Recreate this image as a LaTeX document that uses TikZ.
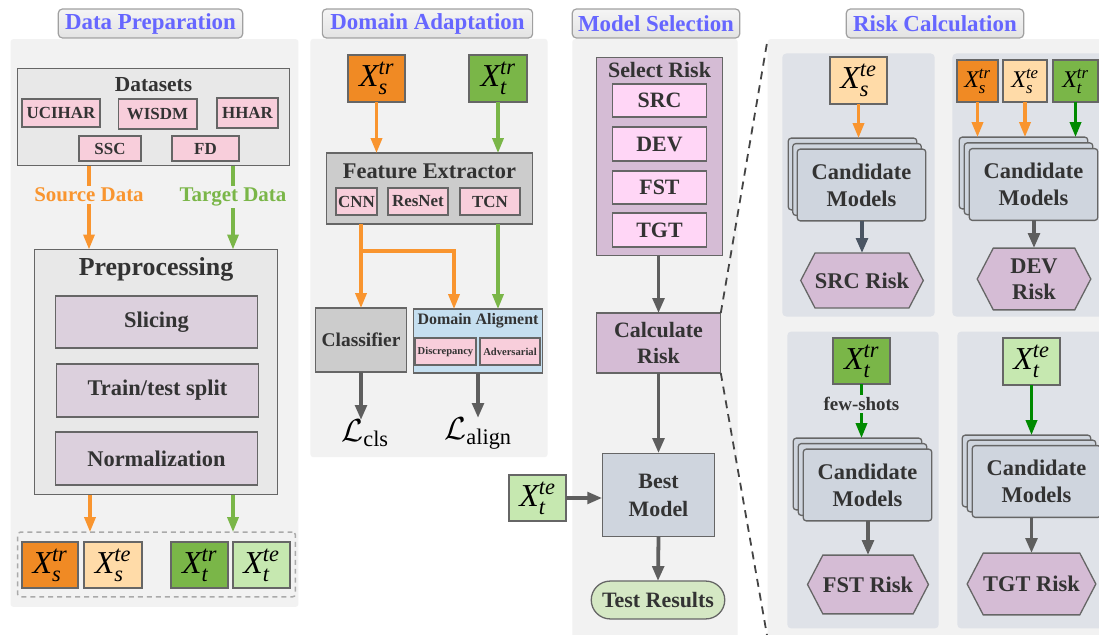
\RequirePackage{fix-cm}
\documentclass[tikz,border=0pt]{standalone}
\usepackage{amsmath}
\usepackage{fontspec}
\setmainfont{Liberation Serif}
\usetikzlibrary{arrows.meta,shapes.symbols,calc}

\definecolor{panelbg}{HTML}{F2F2F2}
\definecolor{subbg}{HTML}{DFE2E8}
\definecolor{titleblue}{HTML}{6666FF}
\definecolor{titleedge}{HTML}{A0A0A0}
\definecolor{txt}{HTML}{333333}
\definecolor{edge}{HTML}{666666}
\definecolor{boxlight}{HTML}{E8E8E8}
\definecolor{pinkbox}{HTML}{F8CEDB}
\definecolor{mauvelt}{HTML}{DCD0DD}
\definecolor{orgfill}{HTML}{F08A24}
\definecolor{orgline}{HTML}{F9952F}
\definecolor{peach}{HTML}{FFDBA8}
\definecolor{grnfill}{HTML}{7AB648}
\definecolor{grnline}{HTML}{7AB648}
\definecolor{grnlight}{HTML}{C6E8B0}
\definecolor{grndark}{HTML}{008A00}
\definecolor{fegray}{HTML}{CCCCCC}
\definecolor{dablue}{HTML}{C5DFF0}
\definecolor{mauve}{HTML}{D5BCD5}
\definecolor{pinkviolet}{HTML}{FFD6F6}
\definecolor{slatebox}{HTML}{CFD5DE}
\definecolor{testgrn}{HTML}{D5E8C4}
\definecolor{arrgray}{HTML}{5E5E5E}
\definecolor{slatedark}{HTML}{4A5563}
\definecolor{dashgray}{HTML}{444444}
\definecolor{boxdash}{HTML}{AAAAAA}

\newcommand\fsz[2]{\fontsize{#1}{#2}\selectfont\bfseries}
\newcommand\xv[2]{$\textit{X}^{\textit{#1}}_{\textit{#2}}$}

\begin{document}
\begin{tikzpicture}[x=1bp,y=-1bp,
  every node/.style={inner sep=0pt,outer sep=0pt},
  panel/.style={fill=panelbg,rounded corners=3},
  subpanel/.style={fill=subbg,rounded corners=4},
  ttl/.style={draw=titleedge,line width=1.2,rounded corners=4,top color=gray!8,bottom color=gray!22,
    text=titleblue,font=\fsz{23}{26},minimum height=29},
  box/.style={draw=edge,line width=1.3,text=txt,align=center},
  lbl/.style={text=txt,align=center},
  xbox/.style={draw=edge,line width=1.3,text=black,font=\fontsize{32}{32}\selectfont},
  xsmall/.style={draw=edge,line width=1.3,text=black,font=\fontsize{24}{24}\selectfont},
  card/.style={box,fill=slatebox,rounded corners=3,minimum width=129,minimum height=72,
    font=\fsz{22.5}{27}},
  hexa/.style={box,fill=mauve,shape=signal,signal to=west and east,signal pointer angle=125,
    font=\fsz{22.5}{26}},
  oarr/.style={draw=orgline,line width=3.3,-{Triangle[width=11,length=15]}},
  garr/.style={draw=grnline,line width=3.3,-{Triangle[width=11,length=15]}},
  dgarr/.style={draw=grndark,line width=3.3,-{Triangle[width=11,length=15]}},
  gyarr/.style={draw=arrgray,line width=3.8,-{Triangle[width=11.5,length=15]}},
  sdarr/.style={draw=slatedark,line width=3.8,-{Triangle[width=11.5,length=15]}},
  dashline/.style={draw=dashgray,line width=1.8,dash pattern=on 8 off 6}
]
\useasboundingbox (0,0) rectangle (1099,635);
\clip (0,0) rectangle (1099,635);
\fill[white] (0,0) rectangle (1099,635);

% ---------------- panels and titles ----------------
\node[panel,minimum width=289,minimum height=570] (dppanel) at (154.5,323) {};
\node[panel,minimum width=238,minimum height=420] (dapanel) at (429,248) {};
\node[panel,minimum width=166,minimum height=602] (mspanel) at (655,339) {};
\node[panel,minimum width=345,minimum height=602] (rcpanel) at (939.5,339) {};

\node[ttl,minimum width=185] (dptitle) at (150.5,23.5) {Data Preparation};
\node[ttl,minimum width=211] (datitle) at (427.5,23.5) {Domain Adaptation};
\node[ttl,minimum width=168] (mstitle) at (656,23.5) {Model Selection};
\node[ttl,minimum width=178] (rctitle) at (935,23.5) {Risk Calculation};

% ---------------- data preparation ----------------
\node[box,fill=boxlight,minimum width=273,minimum height=98] (ds) at (153.5,117) {};
\node[lbl,font=\fsz{21.5}{24}] (dslabel) at (153.5,85) {Datasets};
\node[box,fill=pinkbox,minimum width=78,minimum height=28,font=\fsz{17}{20}] (ucihar) at (61,113) {UCIHAR};
\node[box,fill=pinkbox,minimum width=79,minimum height=30,font=\fsz{17}{20}] (wisdm) at (157.5,114) {WISDM};
\node[box,fill=pinkbox,minimum width=61,minimum height=30,font=\fsz{17}{20}] (hhar) at (247.5,113) {HHAR};
\node[box,fill=pinkbox,minimum width=62,minimum height=25,font=\fsz{17}{20}] (ssc) at (110,148.5) {SSC};
\node[box,fill=pinkbox,minimum width=67,minimum height=25,font=\fsz{17}{20}] (fd) at (205.5,148.5) {FD};

\node[box,fill=boxlight,minimum width=244,minimum height=246] (pre) at (156,372) {};
\node[lbl,font=\fsz{26}{28}] (prelabel) at (156,269) {Preprocessing};
\node[box,fill=mauvelt,minimum width=203,minimum height=52,font=\fsz{22.5}{26}] (slicing) at (156.5,322) {Slicing};
\node[box,fill=mauvelt,minimum width=203,minimum height=53,font=\fsz{22.5}{26}] (split) at (157.5,390.5) {Train/test split};
\node[box,fill=mauvelt,minimum width=203,minimum height=53,font=\fsz{22.5}{26}] (norm) at (156.5,458.5) {Normalization};

\node[draw=boxdash,line width=1.5,dash pattern=on 5 off 4,rounded corners=3,minimum width=279,minimum height=65] (outbox) at (156.5,564.5) {};
\node[xbox,fill=orgfill,minimum width=56,minimum height=46] (dxstr) at (50,565) {\xv{tr}{s}};
\node[xbox,fill=peach,minimum width=58,minimum height=46] (dxste) at (113,565) {\xv{te}{s}};
\node[xbox,fill=grnfill,minimum width=57,minimum height=46] (dxttr) at (199.5,565) {\xv{tr}{t}};
\node[xbox,fill=grnlight,minimum width=57,minimum height=46] (dxtte) at (261.5,565) {\xv{te}{t}};

\coordinate (srcA) at ($(ds.south)+(-64.5,0)$);
\coordinate (tgtA) at ($(ds.south)+(79.5,0)$);
\draw[oarr] (srcA) -- node[pos=0.35,fill=panelbg,inner sep=2pt,text=orgline,font=\fsz{21}{24}] {Source Data} (srcA |- pre.north);
\draw[garr] (tgtA) -- node[pos=0.37,fill=panelbg,inner sep=2pt,text=grnline,font=\fsz{21}{24}] {Target Data} (tgtA |- pre.north);
\coordinate (srcB) at ($(pre.south)+(-66,0)$);
\coordinate (tgtB) at ($(pre.south)+(77,0)$);
\draw[oarr] (srcB) -- (srcB |- outbox.north);
\draw[garr] (tgtB) -- (tgtB |- outbox.north);

% ---------------- domain adaptation ----------------
\node[xbox,fill=orgfill,minimum width=57,minimum height=47] (axs) at (376.5,78.5) {\xv{tr}{s}};
\node[xbox,fill=grnfill,minimum width=58,minimum height=47] (axt) at (498,78.5) {\xv{tr}{t}};
\node[box,fill=fegray,minimum width=207,minimum height=71] (fe) at (429.5,188.5) {};
\node[lbl,font=\fsz{22.5}{26}] (felabel) at (429.5,171) {Feature Extractor};
\node[box,fill=pinkbox,minimum width=41,minimum height=27,font=\fsz{17}{20}] (cnn) at (356.5,201.5) {CNN};
\node[box,fill=pinkbox,minimum width=60,minimum height=27,font=\fsz{17}{20}] (resnet) at (418,201.5) {ResNet};
\node[box,fill=pinkbox,minimum width=60,minimum height=27,font=\fsz{17}{20}] (tcn) at (490,201.5) {TCN};

\node[box,fill=fegray,minimum width=92,minimum height=64,font=\fsz{19.5}{22}] (cls) at (361,340) {Classifier};
\node[box,fill=dablue,minimum width=130,minimum height=64] (da) at (478,341) {};
\node[lbl,font=\fsz{16}{19}] (dalabel) at (478,321) {Domain Aligment};
\node[box,fill=pinkbox,minimum width=61,minimum height=27,font=\fsz{10.6}{12}] (disc) at (445.5,351.5) {Discrepancy};
\node[box,fill=pinkbox,minimum width=60,minimum height=27,font=\fsz{10.6}{12}] (adv) at (510,351.5) {Adversarial};

\node[anchor=north,font=\fontsize{32}{32}\selectfont] (lcls) at (365,420) {$\mathcal{L}_{\textrm{cls}}$};
\node[anchor=north,font=\fontsize{32}{32}\selectfont] (lalign) at (478,418) {$\mathcal{L}_{\textrm{align}}$};

\draw[oarr] (axs.south) -- (axs.south |- fe.north);
\draw[garr] (axt.south) -- (axt.south |- fe.north);
\coordinate (brk) at (361,251);
\draw[oarr] (fe.south -| cls.north) -- (cls.north);
\draw[oarr] (brk) -| ($(da.north)+(-24,0)$);
\draw[garr] (fe.south -| axt.south) -- (da.north -| axt.south);
\draw[gyarr] (cls.south) -- (lcls.north -| cls.south);
\draw[gyarr] (da.south) -- (lalign.north -| da.south);

% ---------------- model selection ----------------
\node[box,fill=mauve,minimum width=127,minimum height=199] (selrisk) at (659.5,156.5) {};
\node[lbl,font=\fsz{22}{25}] (sellabel) at (659.5,70) {Select Risk};
\node[box,fill=pinkviolet,minimum width=95,minimum height=33,font=\fsz{22}{25}] (msrc) at (659.5,100.5) {SRC};
\node[box,fill=pinkviolet,minimum width=95,minimum height=34,font=\fsz{22}{25}] (mdev) at (659.5,144) {DEV};
\node[box,fill=pinkviolet,minimum width=95,minimum height=33,font=\fsz{22}{25}] (mfst) at (659.5,187.5) {FST};
\node[box,fill=pinkviolet,minimum width=95,minimum height=34,font=\fsz{22}{25}] (mtgt) at (659.5,230) {TGT};

\node[box,fill=mauve,minimum width=125,minimum height=60,font=\fsz{22}{27}] (calc) at (658.5,343) {Calculate\\Risk};
\node[box,fill=slatebox,minimum width=113,minimum height=84,font=\fsz{22}{28}] (best) at (658.5,495) {Best\\Model};
\node[xbox,fill=grnlight,minimum width=57,minimum height=46] (mxt) at (537.5,498) {\xv{te}{t}};
\node[box,fill=testgrn,rounded corners=19,minimum width=134,minimum height=38,font=\fsz{22}{25}] (test) at (658,600) {Test Results};

\draw[gyarr] (selrisk.south -| calc.north) -- (calc.north);
\draw[gyarr] (calc.south) -- (best.north);
\draw[gyarr] (best.south) -- (test.north);
\draw[gyarr] (mxt.east) -- (mxt.east -| best.west);

% ---------------- risk calculation ----------------
\node[subpanel,minimum width=153,minimum height=264] (sp1) at (858.5,185) {};
\node[subpanel,minimum width=160,minimum height=264] (sp2) at (1032,185) {};
\node[subpanel,minimum width=152,minimum height=298] (sp3) at (863,480) {};
\node[subpanel,minimum width=155,minimum height=298] (sp4) at (1034.5,480) {};

\draw[dashline] (calc.north east) -- (rcpanel.north west);
\draw[dashline] (calc.south east) -- (rcpanel.south west);

% SRC risk
\node[xbox,fill=peach,minimum width=57,minimum height=47] (r1x) at (858.5,80.5) {\xv{te}{s}};
\node[card] (c1b) at (852.5,174) {};
\node[card] (c1m) at (857,179.5) {};
\node[card] (c1) at (861.5,185) {Candidate\\Models};
\node[hexa,minimum width=120,minimum height=55] (srcrisk) at (862,280.5) {SRC Risk};
\draw[oarr] (r1x.south) -- (r1x.south |- c1b.north);
\draw[sdarr] (c1.south -| srcrisk.north) -- (srcrisk.north);

% DEV risk
\node[xsmall,fill=orgfill,minimum width=41,minimum height=42] (r2a) at (977.5,81) {\xv{tr}{s}};
\node[xsmall,fill=peach,minimum width=44,minimum height=42] (r2b) at (1025,81) {\xv{te}{s}};
\node[xsmall,fill=grnfill,minimum width=45,minimum height=42] (r2c) at (1075.5,81) {\xv{tr}{t}};
\node[card] (c2b) at (1023.5,173) {};
\node[card] (c2m) at (1028.5,178.75) {};
\node[card] (c2) at (1033.5,184.5) {Candidate\\Models};
\node[hexa,minimum width=114,minimum height=62] (devrisk) at (1034,279) {DEV\\Risk};
\draw[oarr] (r2a.south) -- (r2a.south |- c2b.north);
\draw[oarr] (r2b.south) -- (r2b.south |- c2b.north);
\draw[dgarr] (r2c.south) -- (r2c.south |- c2b.north);
\draw[gyarr] (c2.south -| devrisk.north) -- (devrisk.north);

% FST risk
\node[xbox,fill=grnfill,minimum width=57,minimum height=46] (r3x) at (861.5,361) {\xv{tr}{t}};
\node[card] (c3b) at (857.5,474) {};
\node[card] (c3m) at (862.5,479.5) {};
\node[card] (c3) at (867.5,485) {Candidate\\Models};
\node[hexa,minimum width=120,minimum height=59] (fstrisk) at (868,584.5) {FST Risk};
\draw[dgarr] (r3x.south) -- node[pos=0.37,fill=subbg,inner sep=2pt,text=txt,font=\fsz{19}{22}] {few-shots} (r3x.south |- c3b.north);
\draw[gyarr] (c3.south -| fstrisk.north) -- (fstrisk.north);

% TGT risk
\node[xbox,fill=grnlight,minimum width=57,minimum height=47] (r4x) at (1031.5,361.5) {\xv{te}{t}};
\node[card] (c4b) at (1026.5,471) {};
\node[card] (c4m) at (1031.5,476) {};
\node[card] (c4) at (1036.5,481.5) {Candidate\\Models};
\node[hexa,minimum width=121,minimum height=62] (tgtrisk) at (1031.5,584) {TGT Risk};
\draw[dgarr] (r4x.south) -- (r4x.south |- c4b.north);
\draw[gyarr] (c4.south -| tgtrisk.north) -- (tgtrisk.north);
\end{tikzpicture}
\end{document}
